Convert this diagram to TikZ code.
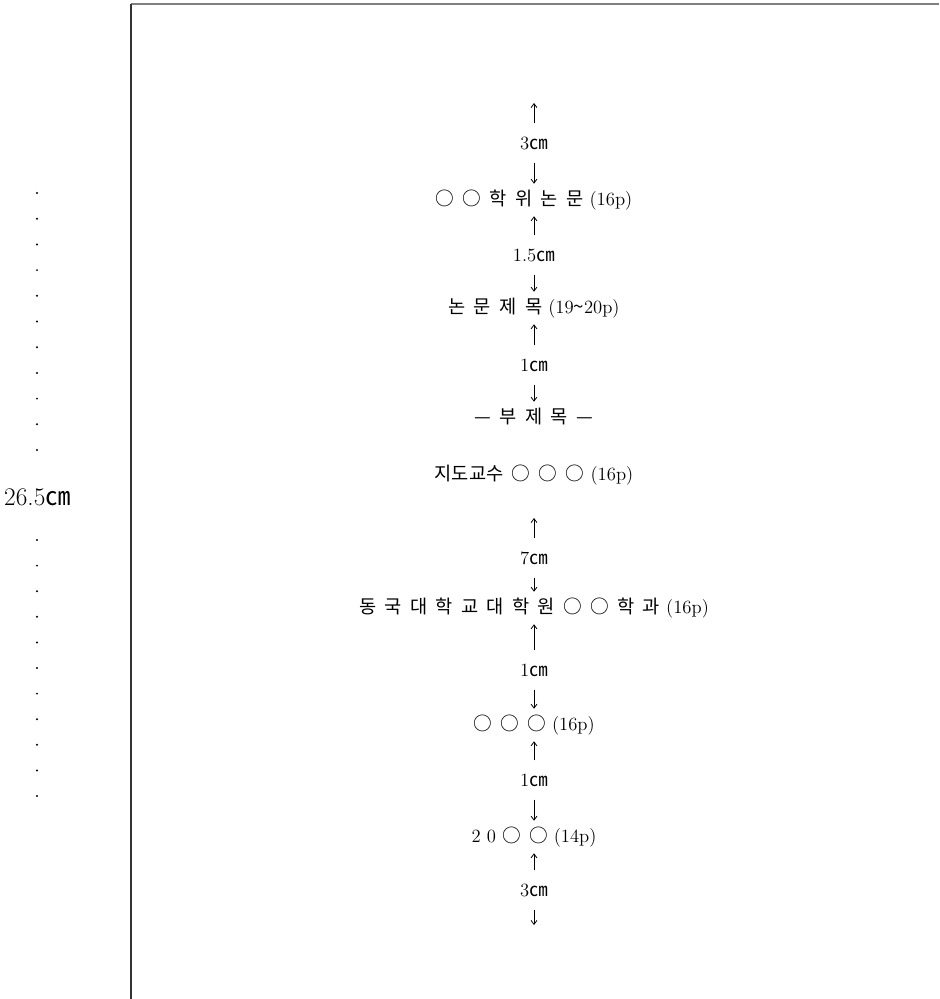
\documentclass[tikz,border=0pt]{standalone}
\usepackage{fontspec}
\newfontfamily\cjk[WordSpace=2]{Noto Sans CJK KR}
\usetikzlibrary{arrows.meta}

\newcommand\unitcm{{\cjk ㎝}}

\begin{document}
\begin{tikzpicture}[x=0.75pt,y=-0.75pt,
  entry/.style={font=\fontsize{14}{16}\selectfont, inner sep=0pt, text height=10pt, text depth=2pt},
  gaplabel/.style={font=\fontsize{14}{16}\selectfont, inner sep=0pt, text height=10pt, text depth=0pt},
  dimarrow/.style={-{Straight Barb[length=3pt,width=4.5pt]}, line width=0.6pt, shorten <=9.5pt, shorten >=6pt}]
  \useasboundingbox (0,0) rectangle (939,999);

  % page frame
  \draw[line width=1.5pt, gray] (130.5,4.5) -- (939,4.5);
  \draw[line width=1.5pt, black!80] (130.5,4.5) -- (130.5,999);

  % page height on the left
  \foreach \i in {0,...,10}
    \fill (37,193+25.7*\i) circle (1.1);
  \foreach \i in {0,...,10}
    \fill (37,540+25.6*\i) circle (1.1);
  \node[font=\fontsize{19}{22}\selectfont, inner sep=0pt] (height) at (37.5,497) {26.5\unitcm};

  % cover lines
  \coordinate (top) at (534,95);
  \node[gaplabel] (gapA) at (534,143) {3\unitcm};
  \node[entry] (degree) at (534,200) {{\cjk ○ ○ 학 위 논 문} (16p)};
  \node[gaplabel] (gapB) at (534,255) {1.5\unitcm};
  \node[entry] (title) at (534,308) {{\cjk 논 문 제 목} (19{\cjk\textasciitilde}20p)};
  \node[gaplabel] (gapC) at (534,365) {1\unitcm};
  \node[entry] (subtitle) at (534,418) {\cjk — 부 제 목 —};
  \node[entry] (advisor) at (534,475) {{\cjk 지도교수 ○ ○ ○} (16p)};
  \coordinate (free) at (534,510);
  \node[gaplabel] (gapD) at (534,558) {7\unitcm};
  \node[entry] (school) at (534,608) {{\cjk 동 국 대 학 교 대 학 원 ○ ○ 학 과} (16p)};
  \node[gaplabel] (gapE) at (534,670) {1\unitcm};
  \node[entry] (author) at (534,725) {{\cjk ○ ○ ○} (16p)};
  \node[gaplabel] (gapF) at (534,780) {1\unitcm};
  \node[entry] (year) at (534,837) {2 0 {\cjk ○ ○} (14p)};
  \node[gaplabel] (gapG) at (534,890) {3\unitcm};
  \coordinate (bottom) at (534,933);

  % spacing arrows
  \draw[dimarrow] (gapA) -- (top);
  \draw[dimarrow] (gapA) -- (degree);
  \draw[dimarrow] (gapB) -- (degree);
  \draw[dimarrow] (gapB) -- (title);
  \draw[dimarrow] (gapC) -- (title);
  \draw[dimarrow] (gapC) -- (subtitle);
  \draw[dimarrow] (gapD) -- (free);
  \draw[dimarrow] (gapD) -- (school);
  \draw[dimarrow] (gapE) -- (school);
  \draw[dimarrow] (gapE) -- (author);
  \draw[dimarrow] (gapF) -- (author);
  \draw[dimarrow] (gapF) -- (year);
  \draw[dimarrow] (gapG) -- (year);
  \draw[dimarrow] (gapG) -- (bottom);
\end{tikzpicture}
\end{document}
